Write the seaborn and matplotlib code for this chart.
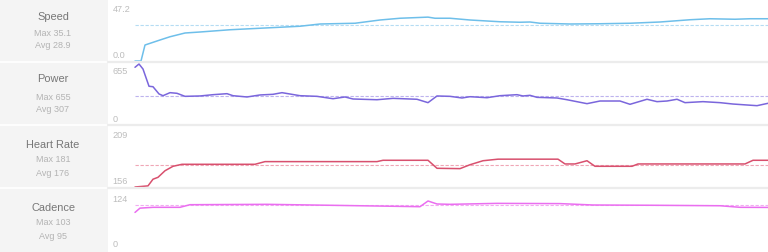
import numpy as np
import pandas as pd
import matplotlib
matplotlib.use("Agg")
import matplotlib.pyplot as plt
from matplotlib.patches import Rectangle
from matplotlib.lines import Line2D
import seaborn as sns

# ---------------- data ----------------
metrics = ["Speed", "Power", "Heart Rate", "Cadence"]
max_vals = ["35.1", "655", "181", "103"]
avg_labels = ["28.9", "307", "176", "95"]
avg_values = [28.9, 307, 176, 95]
y_top_labels = ["47.2", "655", "209", "124"]
y_bottom_labels = ["0.0", "0", "156", "0"]
y_limits = [(0, 47.2), (0, 655), (156, 209), (0, 124)]

speed_t = [0, 0.9, 1.5, 3.75, 5.25, 7.5, 9.75, 14.25, 18.75, 24.75, 27.75, 33, 36.75,
           39.75, 43.95, 45, 47.25, 50.25, 54.75, 57.75, 59.25, 60.75, 65.25, 69.75,
           74.25, 78.75, 83.25, 86.25, 90, 92.25, 94.95]
speed_v = [0, 0, 12.8, 16.8, 19.4, 22.4, 23.2, 25.0, 26.2, 27.8, 29.6, 30.2, 32.8,
           34.2, 35.1, 34.2, 34.2, 32.8, 31.4, 31.0, 31.2, 30.2, 29.6, 29.8,
           30.2, 31.2, 33.0, 33.8, 33.4, 33.8, 33.8]

power_t = [0, 0.6, 1.2, 2.1, 2.7, 3.6, 4.2, 5.25, 6.3, 7.5, 9.75, 11.7, 13.8, 14.7, 16.8,
           18.75, 20.7, 22.05, 24.75, 27.3, 29.7, 31.5, 32.7, 36.3, 38.7, 42.3, 43.95,
           45.3, 47.25, 49.05, 50.25, 52.8, 54.75, 57.3, 58.2, 59.25, 60.3, 63.3, 64.8,
           67.8, 69.75, 72.75, 74.25, 76.8, 78.3, 79.8, 81.3, 82.5, 85.2, 87.75, 89.7,
           93.3, 94.95]
power_v = [619, 655, 600, 412, 407, 328, 309, 342, 335, 302, 306, 320, 331, 309, 295,
           317, 324, 342, 309, 302, 276, 295, 273, 265, 280, 270, 233,
           306, 302, 284, 298, 287, 309, 320, 306, 313, 291, 284, 265,
           222, 251, 251, 215, 270, 244, 251, 270, 233, 244, 233, 218,
           200, 226]

hr_t = [0, 1.95, 2.7, 3.45, 4.5, 5.7, 7.05, 18, 19.5, 36.3, 37.2, 43.95, 45.3, 48.75,
        50.25, 52.2, 54.45, 63.45, 64.5, 66, 67.8, 69, 74.55, 75.45, 91.5, 92.7, 94.95]
hr_v = [156, 157, 163, 164.7, 170.6, 174.6, 176.4, 176.4, 178.8, 178.8, 180, 180, 172.8,
        172.5, 176, 179.6, 181, 181, 176.7, 176.7, 179.6, 174.6, 174.6, 176.7, 176.7,
        180, 180]

cad_t = [0, 0.75, 2.7, 6.75, 8.25, 19.8, 29.7, 42.75, 43.95, 45.3, 47.25, 54.3, 63.75,
         68.7, 77.7, 87.75, 90.75, 94.95]
cad_v = [79, 88, 89.7, 89.7, 95.2, 96, 93.9, 91, 103, 96.7, 96, 98, 97.5,
         94.6, 94, 93, 89.7, 89.5]

series_t = [speed_t, power_t, hr_t, cad_t]
series_v = [speed_v, power_v, hr_v, cad_v]

line_colors = ["#6ebfea", "#7a66dc", "#d8506e", "#ea6ef0"]
avg_colors = ["#b5dcf3", "#bdb3ee", "#f0a6b6", "#f2aaf2"]

# ---------------- layout ----------------
W, H = 768, 253
sns.set_theme(style="white")
plt.rcParams["font.family"] = ["Liberation Sans", "DejaVu Sans"]
fig = plt.figure(figsize=(W / 100, H / 100), dpi=100)

panel_w = 108
# axis pixel extents (top, bottom) per row
row_axes = [(3, 62), (65, 125), (129, 188), (192, 251)]
row_bounds = [63, 126, 189]
label_rows = [(17, 33, 46), (79, 97, 110), (145, 160, 174), (208, 223, 237)]

fig.add_artist(Rectangle((0, 0), panel_w / W, 1, transform=fig.transFigure,
                         facecolor="#f4f4f4", edgecolor="none", zorder=0))
for yb in row_bounds:
    fig.add_artist(Line2D([0, panel_w / W], [1 - yb / H, 1 - yb / H],
                          transform=fig.transFigure, color="white", lw=1.2, zorder=1))
    fig.add_artist(Line2D([panel_w / W, 1], [1 - yb / H, 1 - yb / H],
                          transform=fig.transFigure, color="#ececec", lw=1.6, zorder=1))

t_left, t_right = -4.05, 94.95

for i in range(4):
    top, bot = row_axes[i]
    ax = fig.add_axes([panel_w / W, 1 - bot / H, (W - panel_w) / W, (bot - top) / H])
    ax.patch.set_alpha(0)
    df = pd.DataFrame({"t": series_t[i], "v": series_v[i]})
    sns.lineplot(data=df, x="t", y="v", ax=ax, color=line_colors[i], lw=1.1,
                 estimator=None, clip_on=False)
    ax.plot([0, t_right], [avg_values[i], avg_values[i]], color=avg_colors[i],
            lw=0.8, ls=(0, (3, 1.5)), zorder=1)
    ax.set_xlim(t_left, t_right)
    ax.set_ylim(*y_limits[i])
    ax.set_xticks([])
    ax.set_yticks([])
    ax.set_xlabel("")
    ax.set_ylabel("")
    for s in ax.spines.values():
        s.set_visible(False)
    ax.text(4.5 / 660, 1 - 7 / (bot - top), y_top_labels[i], transform=ax.transAxes,
            ha="left", va="center", fontsize=6.6, color="#bdbdbd")
    ax.text(4.5 / 660, 6 / (bot - top), y_bottom_labels[i], transform=ax.transAxes,
            ha="left", va="center", fontsize=6.6, color="#bdbdbd")

    ty, my, ay = label_rows[i]
    fig.text(53 / W, 1 - ty / H, metrics[i], ha="center", va="center",
             fontsize=7.9, color="#777777")
    fig.text(53 / W, 1 - my / H, "Max " + max_vals[i], ha="center", va="center",
             fontsize=6.5, color="#b3b3b3")
    fig.text(53 / W, 1 - ay / H, "Avg " + avg_labels[i], ha="center", va="center",
             fontsize=6.5, color="#b3b3b3")

fig.savefig("out.png", dpi=100, facecolor="white")
